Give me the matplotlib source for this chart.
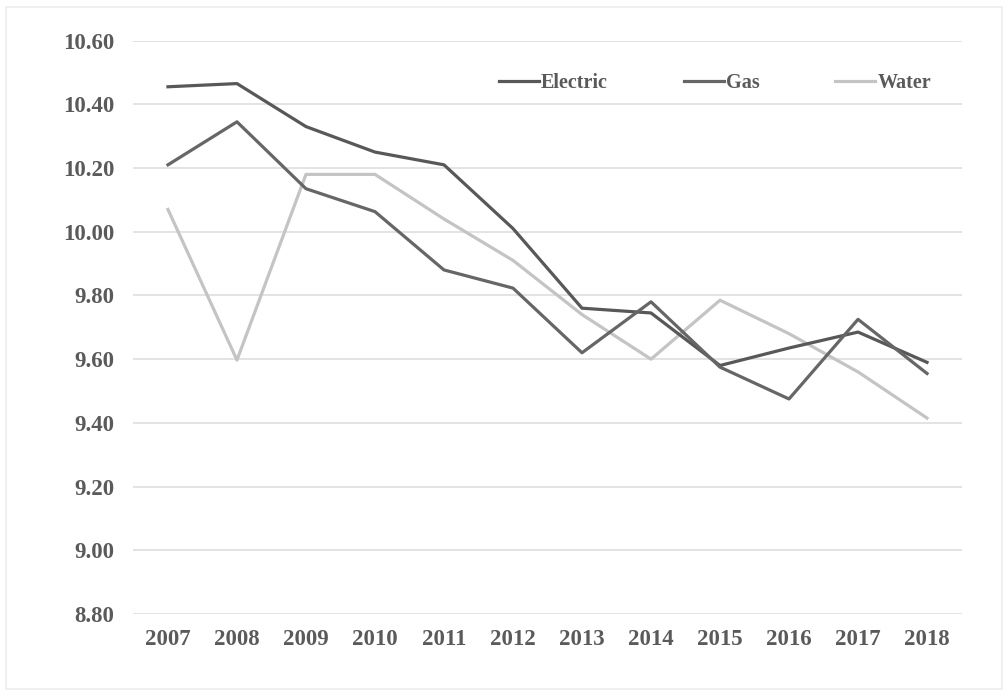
import matplotlib
matplotlib.use("Agg")
import matplotlib.pyplot as plt
from matplotlib.patches import Rectangle

YEARS = ["2007", "2008", "2009", "2010", "2011", "2012",
         "2013", "2014", "2015", "2016", "2017", "2018"]
ELECTRIC = [10.455, 10.465, 10.33, 10.25, 10.21, 10.01,
            9.76, 9.745, 9.58, 9.635, 9.685, 9.59]
GAS = [10.21, 10.345, 10.135, 10.063, 9.88, 9.823,
       9.62, 9.78, 9.575, 9.475, 9.725, 9.555]
WATER = [10.07, 9.597, 10.18, 10.18, 10.04, 9.91,
         9.74, 9.60, 9.785, 9.68, 9.56, 9.415]
Y_TICKS = [8.80, 9.00, 9.20, 9.40, 9.60, 9.80, 10.00, 10.20, 10.40, 10.60]

TEXT_GRAY = "#5a5a5a"
GRID = "#e3e3e3"
FONT = "Liberation Serif"

fig = plt.figure(figsize=(10.08, 6.96), dpi=100)
ax = fig.add_axes([0.1324, 0.1178, 0.8215, 0.8239])

x = range(len(YEARS))
ax.plot(x, ELECTRIC, color="#585858", lw=2.3, label="Electric", zorder=3)
ax.plot(x, GAS, color="#666666", lw=2.3, label="Gas", zorder=3)
ax.plot(x, WATER, color="#c4c4c4", lw=2.3, label="Water", zorder=2)

ax.set_xlim(-0.5, len(YEARS) - 0.5)
ax.set_ylim(8.8, 10.6)
ax.set_yticks(Y_TICKS)
ax.set_yticklabels([f"{v:.2f}" for v in Y_TICKS])
ax.set_xticks(list(x))
ax.set_xticklabels(YEARS)
ax.grid(axis="y", color=GRID, lw=1.4)
ax.set_axisbelow(True)
for s in ax.spines.values():
    s.set_visible(False)
ax.tick_params(length=0)
ax.tick_params(axis="y", pad=14)
ax.tick_params(axis="x", pad=11)
for lab in ax.get_xticklabels() + ax.get_yticklabels():
    lab.set_fontfamily(FONT)
    lab.set_fontweight("bold")
    lab.set_fontsize(16.5)
    lab.set_color(TEXT_GRAY)

leg = ax.legend(loc="upper right", bbox_to_anchor=(0.985, 0.975), ncol=3,
                frameon=False, handlelength=2.0, handletextpad=0.1,
                columnspacing=3.75,
                prop={"family": FONT, "weight": "bold", "size": 14.5})
for t in leg.get_texts():
    t.set_color(TEXT_GRAY)

# faint outer frame of the scanned chart
fig.patches.append(Rectangle((0.006, 0.01), 0.988, 0.98, transform=fig.transFigure,
                             fill=False, edgecolor="#ececec", lw=1.2))

fig.savefig("out.png", dpi=100, facecolor="white")
